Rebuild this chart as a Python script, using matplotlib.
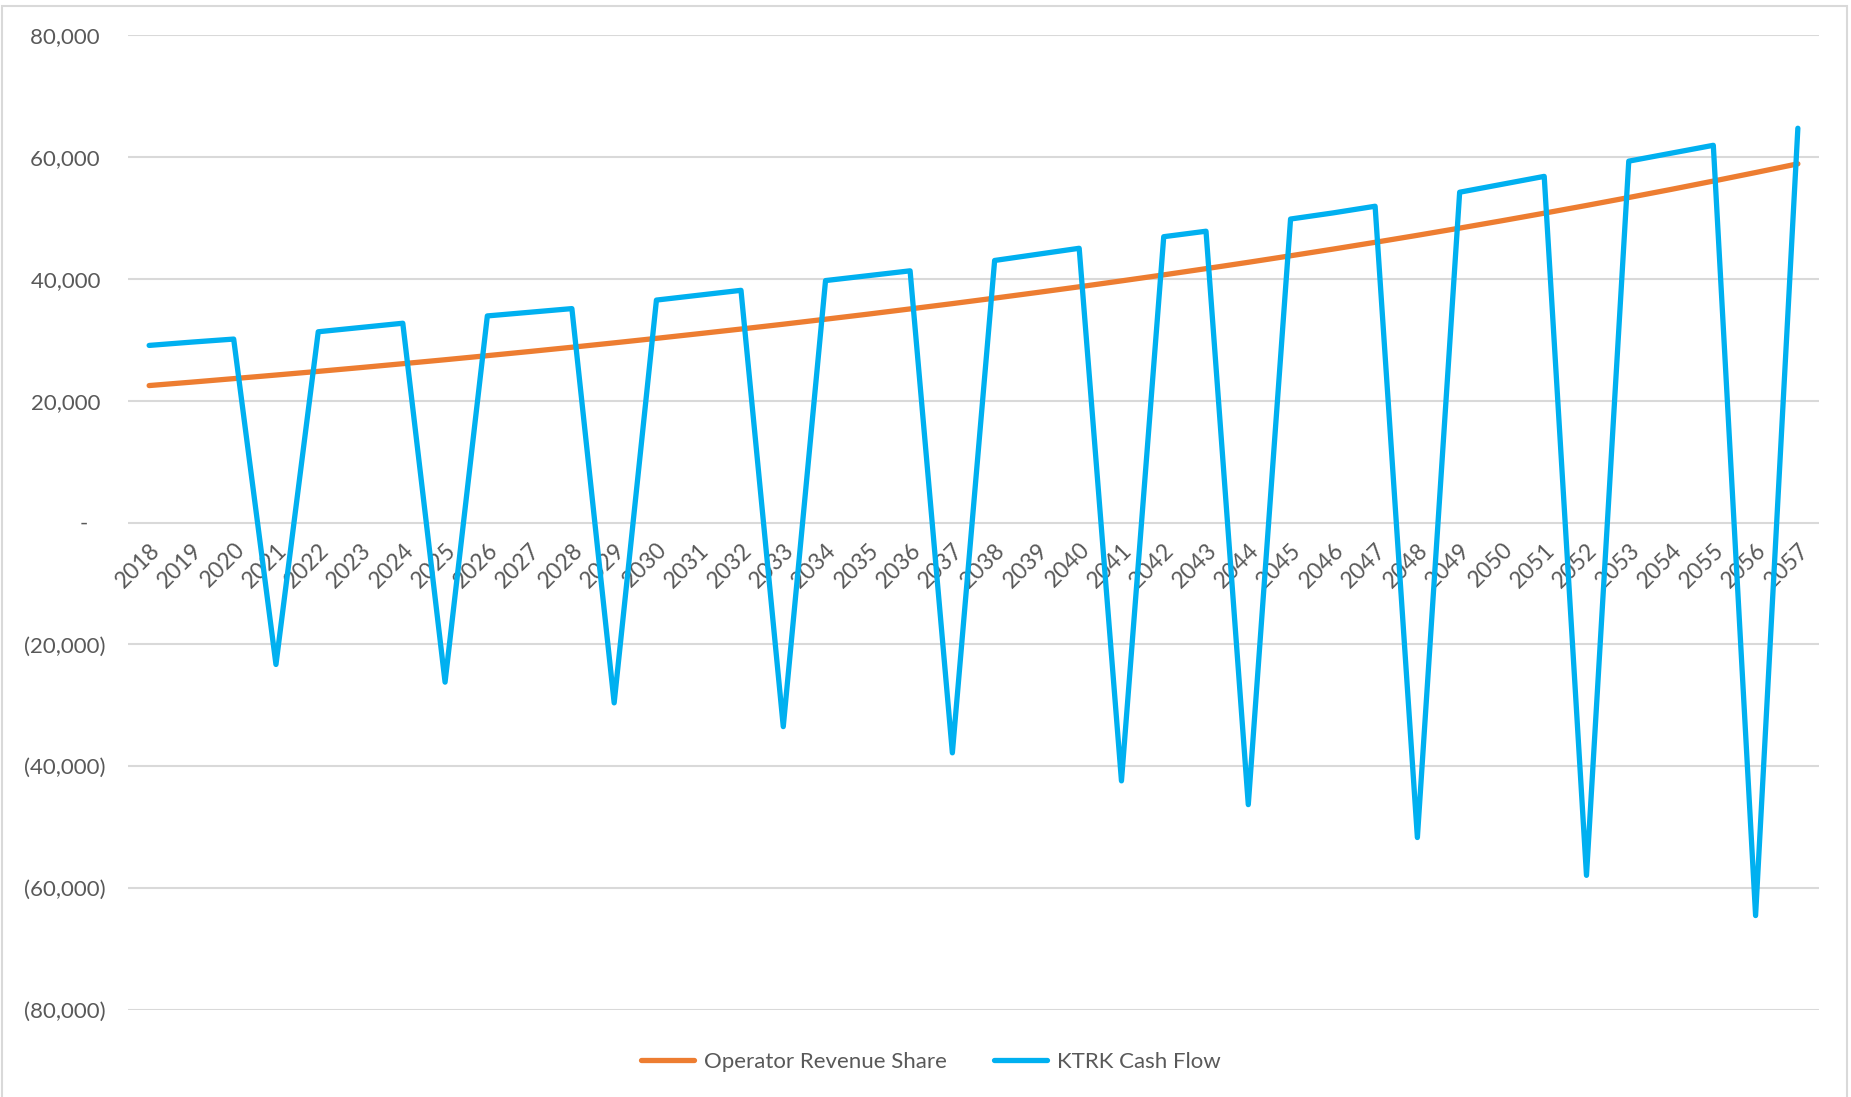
import matplotlib.pyplot as plt
from matplotlib.patches import Rectangle
from matplotlib.ticker import FuncFormatter

# data
years = list(range(2018, 2058))
operator_share = [22470, 23030, 23610, 24200, 24800, 25420, 26060, 26710, 27380, 28060,
                  28760, 29480, 30220, 30980, 31750, 32540, 33360, 34190, 35050, 35920,
                  36820, 37740, 38680, 39650, 40640, 41660, 42700, 43770, 44860, 45980,
                  47130, 48310, 49520, 50760, 52030, 53330, 54660, 56030, 57430, 58860]
ktrk_cash = [29060, 29600, 30100, -23300, 31300, 32000, 32700, -26200, 33900, 34500,
             35100, -29600, 36500, 37300, 38100, -33500, 39700, 40500, 41300, -37800,
             43000, 44000, 45000, -42400, 46900, 47800, -46300, 49800, 50800, 51900,
             -51700, 54200, 55500, 56800, -57900, 59300, 60600, 61900, -64500, 64700]
y_ticks = [-80000, -60000, -40000, -20000, 0, 20000, 40000, 60000, 80000]

plt.rcParams['font.family'] = ['Lato', 'DejaVu Sans']
txt = '#595959'
W, H = 1851, 1097

fig = plt.figure(figsize=(W / 100, H / 100), dpi=100)
ax = fig.add_axes([128 / W, 1 - 1010 / H, (1819 - 128) / W, (1010 - 35) / H])

x = list(range(len(years)))
ax.plot(x, operator_share, color='#ED7D31', lw=3.8, solid_joinstyle='round',
        solid_capstyle='round', label='Operator Revenue Share', zorder=3)
ax.plot(x, ktrk_cash, color='#00B0F0', lw=3.8, solid_joinstyle='round',
        solid_capstyle='round', label='KTRK Cash Flow', zorder=4)

ax.set_xlim(-0.5, len(years) - 0.5)
ax.set_ylim(-80000, 80000)
ax.set_yticks(y_ticks)


def acct(v, pos):
    if v > 0:
        return f'{v:,.0f} '
    if v < 0:
        return f'({-v:,.0f})'
    return '-   '


ax.yaxis.set_major_formatter(FuncFormatter(acct))
ax.grid(axis='y', color='#D9D9D9', lw=1.5)
ax.set_axisbelow(True)
for s in ['top', 'right', 'left']:
    ax.spines[s].set_visible(False)
ax.spines['bottom'].set_position(('data', 0))
ax.spines['bottom'].set_visible(False)

ax.set_xticks(x)
ax.set_xticklabels([str(y) for y in years], rotation=45, ha='right', va='top',
                   rotation_mode='anchor')
ax.tick_params(axis='x', length=0, pad=12, labelsize=16.5, labelcolor=txt)
ax.tick_params(axis='y', length=0, pad=16, labelsize=16, labelcolor=txt)

fig.legend(loc='center', bbox_to_anchor=(0.503, 1 - 1062 / H), ncol=2, frameon=False,
           fontsize=16, labelcolor=txt, handlelength=2.4, handletextpad=0.45,
           columnspacing=2.1)

fig.patches.append(Rectangle((2 / W, -0.01), (1847 - 2) / W, 1 - 6 / H + 0.01,
                             transform=fig.transFigure, fill=False,
                             edgecolor='#D9D9D9', lw=1.5))

fig.savefig('out.png', dpi=100)
